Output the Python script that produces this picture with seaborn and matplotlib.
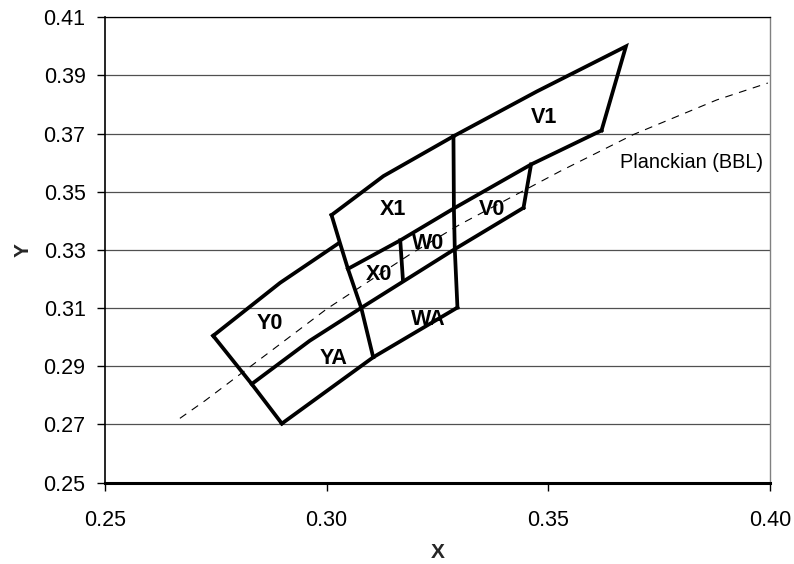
import matplotlib
matplotlib.use("Agg")
import matplotlib.pyplot as plt
import seaborn as sns
import numpy as np

# ---- data ----
x_ticks = [0.25, 0.30, 0.35, 0.40]
y_ticks = [0.25, 0.27, 0.29, 0.31, 0.33, 0.35, 0.37, 0.39, 0.41]

# boundary polylines of the bins
v1_outer_x = [0.3286, 0.3474, 0.3675, 0.3620]
v1_outer_y = [0.3691, 0.3845, 0.4000, 0.3711]

upper_strip_x = [0.3048, 0.3166, 0.3287, 0.3461, 0.3620]
upper_strip_y = [0.3235, 0.3333, 0.3443, 0.3594, 0.3711]

main_vert_x = [0.3286, 0.3287, 0.3289, 0.3295]
main_vert_y = [0.3691, 0.3443, 0.3303, 0.3102]

lower_strip_x = [0.2831, 0.2962, 0.3078, 0.3289, 0.3444]
lower_strip_y = [0.2839, 0.2988, 0.3101, 0.3303, 0.3445]

v0_right_x = [0.3444, 0.3461]
v0_right_y = [0.3445, 0.3594]

bottom_edge_x = [0.2899, 0.3105, 0.3295]
bottom_edge_y = [0.2703, 0.2931, 0.3102]

left_edge_x = [0.2744, 0.2831, 0.2899]
left_edge_y = [0.3005, 0.2839, 0.2703]

y0_top_x = [0.2744, 0.2895, 0.3026]
y0_top_y = [0.3005, 0.3187, 0.3322]

x_line_x = [0.3011, 0.3030, 0.3048, 0.3078, 0.3105]
x_line_y = [0.3420, 0.3324, 0.3235, 0.3101, 0.2931]

x1_top_x = [0.3011, 0.3128, 0.3286]
x1_top_y = [0.3420, 0.3554, 0.3691]

w0_div_x = [0.3166, 0.3172]
w0_div_y = [0.3333, 0.3198]

planck_x = [0.2669, 0.2726, 0.3000, 0.3188, 0.3301, 0.3527, 0.3692, 0.3880, 0.3995]
planck_y = [0.2721, 0.2782, 0.3097, 0.3285, 0.3388, 0.3571, 0.3697, 0.3816, 0.3874]

bin_names = ["V1", "X1", "V0", "W0", "X0", "WA", "Y0", "YA"]
bin_label_x = [0.3490, 0.3150, 0.3372, 0.3229, 0.3117, 0.3229, 0.2871, 0.3015]
bin_label_y = [0.3754, 0.3440, 0.3440, 0.3322, 0.3214, 0.3062, 0.3047, 0.2928]

planck_label = "Planckian (BBL)"

# ---- figure ----
sns.set_theme(style="white")
plt.rcParams["font.family"] = ["Liberation Sans", "DejaVu Sans"]

fig = plt.figure(figsize=(7.94, 5.64), dpi=100)
ax = fig.add_axes([0.1322, 0.1443, 0.9698 - 0.1322, 0.9693 - 0.1443])

ax.set_xlim(0.25, 0.40)
ax.set_ylim(0.25, 0.41)

# planckian dashed curve
sns.lineplot(x=planck_x, y=planck_y, sort=False, estimator=None, color="black",
             linewidth=0.8, ax=ax, dashes=False)
ax.lines[-1].set_dashes((7, 6))

lines = [
    (v1_outer_x, v1_outer_y), (upper_strip_x, upper_strip_y),
    (main_vert_x, main_vert_y), (lower_strip_x, lower_strip_y),
    (v0_right_x, v0_right_y), (bottom_edge_x, bottom_edge_y),
    (left_edge_x, left_edge_y), (y0_top_x, y0_top_y),
    (x_line_x, x_line_y), (x1_top_x, x1_top_y), (w0_div_x, w0_div_y),
]
for lx, ly in lines:
    sns.lineplot(x=lx, y=ly, sort=False, estimator=None, color="black",
                 linewidth=2.7, ax=ax)
for ln in ax.lines[1:]:
    ln.set_solid_joinstyle("miter")
    ln.set_solid_capstyle("projecting")

for name, lx, ly in zip(bin_names, bin_label_x, bin_label_y):
    ax.text(lx, ly, name, ha="center", va="center", fontsize=15.5,
            fontweight="bold", color="black")

ax.text(0.3984, 0.3600, planck_label, ha="right", va="center", fontsize=14.3,
        color="black")

ax.set_xticks(x_ticks)
ax.set_xticklabels([f"{v:.2f}" for v in x_ticks])
ax.set_yticks(y_ticks)
ax.set_yticklabels([f"{v:.2f}" for v in y_ticks])

ax.yaxis.grid(True, color="#505050", linewidth=0.9)
ax.xaxis.grid(False)
ax.set_axisbelow(True)

ax.tick_params(axis="both", direction="out", length=6, width=1, color="black",
               labelsize=15.5, labelcolor="black", bottom=True, left=True)
ax.tick_params(axis="x", pad=14)
ax.tick_params(axis="y", pad=8)

for side, col, lw in [("left", "black", 1.2), ("bottom", "black", 2.2),
                      ("top", "black", 0.9), ("right", "#808080", 1.0)]:
    ax.spines[side].set_visible(True)
    ax.spines[side].set_color(col)
    ax.spines[side].set_linewidth(lw)

ax.set_xlabel("X", fontsize=15, fontweight="bold", labelpad=8)
ax.set_ylabel("Y", fontsize=15, fontweight="bold", labelpad=8)

fig.savefig("out.png", dpi=100, facecolor="white")
